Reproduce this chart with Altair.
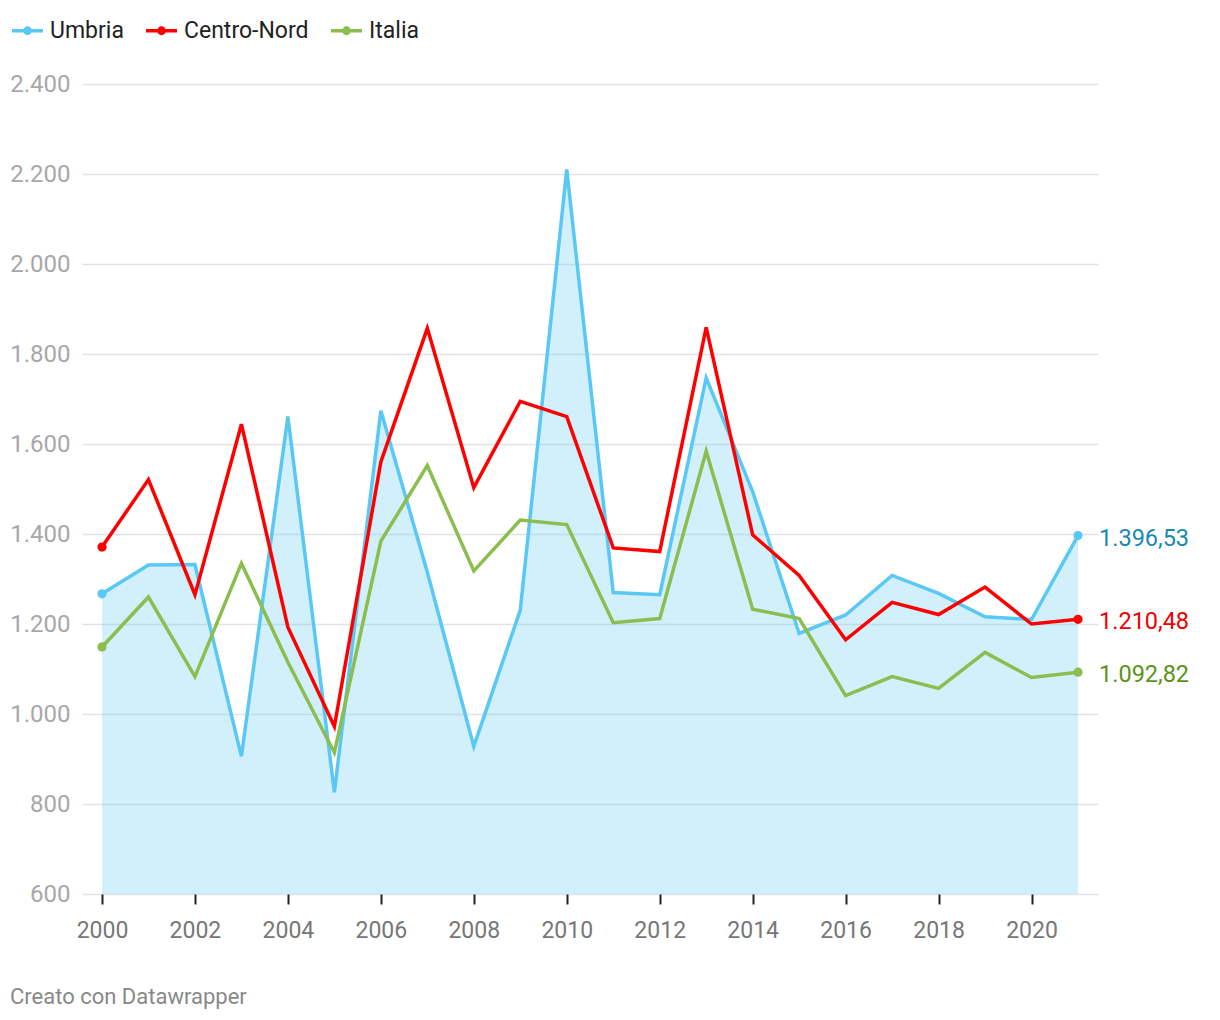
import altair as alt
import pandas as pd

years = list(range(2000, 2022))
umbria = [1267, 1331, 1332, 906, 1661, 826, 1674, 1315, 928, 1231, 2210,
          1270, 1265, 1747, 1494, 1179, 1220, 1308, 1268, 1216, 1210, 1396.53]
centro_nord = [1371, 1521, 1265, 1644, 1193, 972, 1560, 1857, 1503, 1695, 1661,
               1369, 1361, 1859, 1398, 1308, 1165, 1248, 1221, 1282, 1200, 1210.48]
italia = [1149, 1260, 1083, 1335, 1115, 914, 1384, 1552, 1318, 1431, 1421,
          1203, 1212, 1584, 1233, 1212, 1041, 1083, 1057, 1137, 1081, 1092.82]

series_names = ["Umbria", "Centro-Nord", "Italia"]
line_colors = ["#5ac8f5", "#ff0000", "#8bbd4f"]
label_colors = ["#178ab2", "#f00000", "#5a9320"]
y_ticks = [600, 800, 1000, 1200, 1400, 1600, 1800, 2000, 2200, 2400]
x_ticks = [2000, 2002, 2004, 2006, 2008, 2010, 2012, 2014, 2016, 2018, 2020]
y_min, y_max = 600, 2400
footer = "Creato con Datawrapper"

rows = []
for name, vals in zip(series_names, [umbria, centro_nord, italia]):
    for yr, v in zip(years, vals):
        rows.append({"year": yr, "series": name, "value": v})
df = pd.DataFrame(rows)
df_umbria = df[df.series == "Umbria"]
ends = df[df.year.isin([years[0], years[-1]])]
last = df[df.year == years[-1]].copy()
last["labelColor"] = last.series.map(dict(zip(series_names, label_colors)))

FONT = "Roboto"
FS = 23

x = alt.X("year:Q",
          scale=alt.Scale(domain=[1999.57, 2021.43], nice=False, zero=False),
          axis=alt.Axis(values=x_ticks, format="d", grid=False, domain=False,
                        ticks=True, tickColor="#222", tickSize=10, tickWidth=2,
                        labelColor="#777777", labelFontSize=FS, labelFont=FONT,
                        labelPadding=15, title=None))
y = alt.Y("value:Q",
          scale=alt.Scale(domain=[y_min, y_max], nice=False, zero=False),
          axis=alt.Axis(values=y_ticks, format=",.0f", grid=True,
                        gridColor="#e3e3e3", gridWidth=1.5, domain=False,
                        ticks=False, labelColor="#a8a8a8", labelFontSize=FS + 1,
                        labelFont=FONT, labelPadding=12, title=None))

legend_path = ("M-1,0L1,0M-0.17,0A0.17,0.17,0,1,1,0.17,0"
               "A0.17,0.17,0,1,1,-0.17,0Z")
color = alt.Color("series:N",
                  scale=alt.Scale(domain=series_names, range=line_colors),
                  sort=series_names,
                  legend=alt.Legend(title=None, orient="none", direction="horizontal",
                                    legendX=-72, legendY=-71,
                                    symbolType=legend_path, symbolSize=961,
                                    symbolStrokeWidth=3.5, labelFontSize=FS,
                                    labelFont=FONT, labelColor="#222222",
                                    labelOffset=5, columnPadding=15))

area = alt.Chart(df_umbria).mark_area(color="#5ac8f5", opacity=0.28).encode(
    x=x, y=y, y2=alt.datum(y_min))

lines = alt.Chart(df).mark_line(strokeWidth=3.5, strokeJoin="miter").encode(
    x=x, y=y, color=color,
    order=alt.Order("year:Q"))

points = alt.Chart(ends).mark_point(filled=True, size=85, opacity=1).encode(
    x=x, y=y, color=color)

labels = alt.Chart(last).mark_text(align="left", baseline="middle", dx=21, dy=3,
                                   fontSize=FS + 0.5, font=FONT).encode(
    x=x, y=y,
    text=alt.Text("value:Q", format=",.2f"),
    color=alt.Color("labelColor:N", scale=None))

chart = alt.layer(area, lines, points, labels).properties(
    width=1016, height=810,
    autosize=alt.AutoSizeParams(type="none"),
    padding={"left": 74, "top": 76, "right": 114, "bottom": 118},
    title=alt.TitleParams(footer, orient="bottom", anchor="start", frame="group",
                          fontSize=22, color="#888888", fontWeight="normal",
                          font=FONT, offset=45, dx=-72),
).configure_view(stroke=None)

chart.save("out.html", embed_options={
    "renderer": "svg", "actions": False,
    "formatLocale": {"decimal": ",", "thousands": ".", "grouping": [3],
                     "currency": ["", "\u20ac"]}})
